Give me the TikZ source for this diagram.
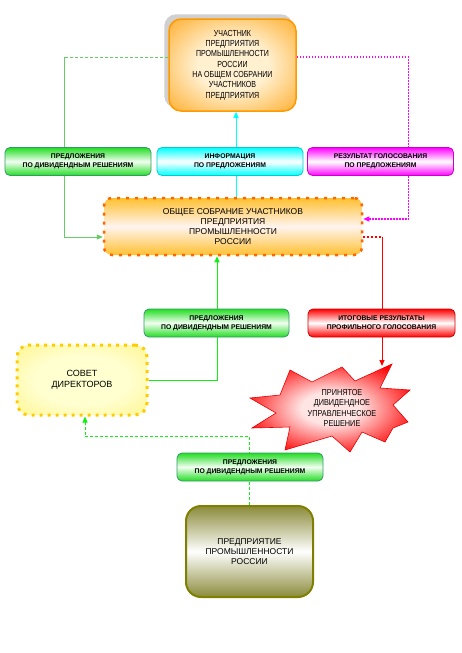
\documentclass[tikz,border=0pt]{standalone}
\usepackage{fontspec}
\setmainfont{Liberation Sans}
\newfontfamily\narrowf[FakeStretch=0.8]{Liberation Sans}
\newfontfamily\starf[FakeStretch=0.85]{Liberation Sans}
\usetikzlibrary{arrows.meta,calc}
\pgfdeclarelayer{bg}
\pgfsetlayers{bg,main}
\definecolor{orng}{HTML}{FF9900}
\definecolor{orngfill}{HTML}{FFA820}
\definecolor{orngpale}{HTML}{FFF0D0}
\definecolor{gbright}{HTML}{22DD22}
\definecolor{gpale}{HTML}{F2FFF2}
\definecolor{gborder}{HTML}{339966}
\definecolor{cyanb}{HTML}{00FFFF}
\definecolor{cyanborder}{HTML}{00CCCC}
\definecolor{magb}{HTML}{FF00FF}
\definecolor{magborder}{HTML}{CC00CC}
\definecolor{redb}{HTML}{FF0000}
\definecolor{redborder}{HTML}{CC0000}
\definecolor{bigtop}{HTML}{FFC030}
\definecolor{bigmid}{HTML}{FFF4F0}
\definecolor{bigdash}{HTML}{FF6600}
\definecolor{sovdot}{HTML}{FFCC00}
\definecolor{sovfill}{HTML}{FFF070}
\definecolor{sovpale}{HTML}{FFFFD0}
\definecolor{olivb}{HTML}{808000}
\definecolor{olivfill}{HTML}{8B8B3A}
\definecolor{shadowgray}{HTML}{D0D0D0}
\definecolor{gline}{HTML}{66CC66}
\definecolor{gbr}{HTML}{11EE11}
\definecolor{starpale}{HTML}{FFE4E4}
\pgfdeclareradialshading{softorange}{\pgfpoint{0bp}{0bp}}{color(0bp)=(orngpale); color(14bp)=(orngpale); color(38bp)=(orngfill); color(50bp)=(orngfill)}
\pgfdeclareradialshading{softyellow}{\pgfpoint{0bp}{0bp}}{color(0bp)=(sovpale); color(18bp)=(sovpale); color(46bp)=(sovfill); color(50bp)=(sovfill)}
\pgfdeclareradialshading{softred}{\pgfpoint{0bp}{0bp}}{color(0bp)=(starpale); color(9bp)=(starpale); color(29bp)=(redb); color(50bp)=(redb)}
\begin{document}
\begin{tikzpicture}[x=1pt,y=-1pt,
  lbl/.style={rounded corners=5pt, minimum height=28pt, minimum width=146pt,
    inner sep=0pt, align=center, line width=0.8pt,
    font=\fontsize{6.8}{8.8}\selectfont\bfseries},
  greenbox/.style={lbl, draw=gborder, top color=gbright, bottom color=gbright, middle color=gpale},
  cyanbox/.style={lbl, draw=cyanborder, top color=cyanb, bottom color=cyanb, middle color=white},
  magbox/.style={lbl, draw=magborder, top color=magb, bottom color=magb, middle color=white},
  redbox/.style={lbl, draw=redborder, top color=redb, bottom color=redb, middle color=white},
  tip/.style={-{Triangle[length=6pt,width=5pt]}},
  ln/.style={line width=1pt}
]
\useasboundingbox (0,0) rectangle (461,653);

% top box
\node[draw=orng, line width=1.5pt, rounded corners=12pt, minimum width=127pt, minimum height=92pt,
  inner sep=0pt, align=center, shading=softorange,
  font=\narrowf\fontsize{8.8}{10.3}\selectfont] (top) at (232.5,65)
  {УЧАСТНИК\\ПРЕДПРИЯТИЯ\\ПРОМЫШЛЕННОСТИ\\РОССИИ\\НА ОБЩЕМ СОБРАНИИ\\УЧАСТНИКОВ\\ПРЕДПРИЯТИЯ};

% row of labels
\node[greenbox] (g1) at (78,161.5) {ПРЕДЛОЖЕНИЯ\\ПО ДИВИДЕНДНЫМ РЕШЕНИЯМ};
\node[cyanbox] (cy) at (230,161.5) {ИНФОРМАЦИЯ\\ПО ПРЕДЛОЖЕНИЯМ};
\node[magbox] (mg) at (380.5,161.5) {РЕЗУЛЬТАТ ГОЛОСОВАНИЯ\\ПО ПРЕДЛОЖЕНИЯМ};

% big box
\node[draw=bigdash, line width=2.5pt, dash pattern=on 3pt off 6pt, rounded corners=8pt,
  minimum width=258pt, minimum height=57pt, inner sep=0pt, align=center,
  top color=bigtop, bottom color=bigtop, middle color=bigmid,
  font=\fontsize{8.5}{10.2}\selectfont] (big) at (233,226.5)
  {ОБЩЕЕ СОБРАНИЕ УЧАСТНИКОВ\\ПРЕДПРИЯТИЯ\\ПРОМЫШЛЕННОСТИ\\РОССИИ};

% second row
\node[greenbox, minimum width=145pt] (g2) at (216.5,323) {ПРЕДЛОЖЕНИЯ\\ПО ДИВИДЕНДНЫМ РЕШЕНИЯМ};
\node[redbox, minimum width=147pt] (rd) at (381.5,323) {ИТОГОВЫЕ РЕЗУЛЬТАТЫ\\ПРОФИЛЬНОГО ГОЛОСОВАНИЯ};

% sovet
\node[draw=sovdot, line width=3pt, dash pattern=on 3pt off 5pt, rounded corners=12pt,
  minimum width=130pt, minimum height=70pt, inner sep=0pt, align=center,
  shading=softyellow,
  font=\fontsize{9}{11}\selectfont] (sovet) at (82,380) {СОВЕТ\\ДИРЕКТОРОВ};

% star
\shade[shading=softred, draw=red!90!black, line width=0.6pt]
  (250,398) -- (280,395) -- (290,370) -- (312,382) -- (342,367) -- (355,381) -- (392,364)
  -- (380,388) -- (410,390) -- (393,405) -- (408,422) -- (393,428) -- (385,442) -- (362,432)
  -- (350,452) -- (332,436) -- (285,450) -- (290,427) -- (252,428) -- (276,413) -- cycle;
\node[align=center, inner sep=0pt, font=\starf\fontsize{8.6}{10.2}\selectfont] (star) at (342,408)
  {ПРИНЯТОЕ\\ДИВИДЕНДНОЕ\\УПРАВЛЕНЧЕСКОЕ\\РЕШЕНИЕ};
\coordinate (stip) at (382,366);

% third green
\node[greenbox] (g3) at (250,467) {ПРЕДЛОЖЕНИЯ\\ПО ДИВИДЕНДНЫМ РЕШЕНИЯМ};

% olive
\node[draw=olivb, line width=2pt, rounded corners=15pt, minimum width=127pt, minimum height=91pt,
  inner sep=0pt, align=center, top color=olivfill, bottom color=olivfill, middle color=white,
  font=\fontsize{8.5}{10.2}\selectfont] (olive) at (249.5,551.5)
  {ПРЕДПРИЯТИЕ\\ПРОМЫШЛЕННОСТИ\\РОССИИ};

\begin{pgfonlayer}{bg}
  \fill[shadowgray, rounded corners=12pt] ([shift={(-4,-4)}]top.north west) rectangle ([shift={(-4,-4)}]top.south east);
  % left green
  \coordinate (gl1) at ([yshift=8pt]top.west);
  \coordinate (gl2) at ([yshift=-10.5pt]big.west);
  \coordinate (glc) at ($(gl1)+(-104,0)$);
  \draw[gline, line width=0.7pt, densely dashed] (gl1) -- (glc);
  \draw[gline, line width=0.7pt, tip] (glc) |- (gl2);
  % cyan
  \coordinate (cy1) at ([xshift=3pt]big.north);
  \draw[cyanb, ln, tip] (cy1) -- (cy1 |- top.south);
  % magenta
  \coordinate (m1) at ([yshift=8pt]top.east);
  \coordinate (m2) at ([yshift=7.5pt]big.east);
  \draw[magb, line width=1.1pt, dash pattern=on 1.5pt off 1.5pt, tip] (m1) -- ++(112,0) |- (m2);
  % red
  \coordinate (r1) at ([yshift=-10.5pt]big.east);
  \draw[redb, line width=1.1pt, dash pattern=on 2pt off 2pt] (r1) -- (r1 -| stip);
  \draw[redb, ln, tip] (r1 -| stip) -- (stip);
  % green 2
  \coordinate (g2t) at ([xshift=-16pt]big.south);
  \draw[gbr, ln, tip] (sovet.east) -| (g2t);
  % green 3
  \coordinate (s3) at ([xshift=3pt]sovet.south);
  \draw[gbr, ln, dash pattern=on 3pt off 2pt, tip] (olive.north) |- ($(s3)+(0,20)$) -- (s3);
\end{pgfonlayer}
\end{tikzpicture}
\end{document}
